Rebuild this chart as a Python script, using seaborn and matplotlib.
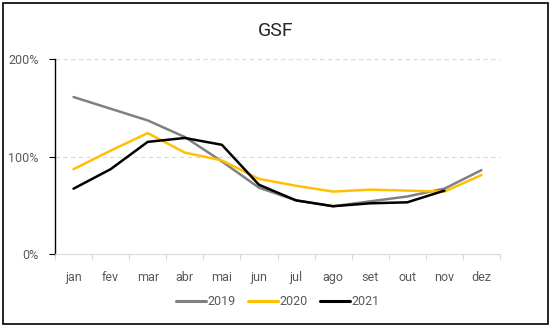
import matplotlib
matplotlib.use("Agg")
import matplotlib.pyplot as plt
from matplotlib.patches import Rectangle
from matplotlib.ticker import FixedLocator, FuncFormatter
import seaborn as sns
import pandas as pd
import numpy as np

months = ["jan", "fev", "mar", "abr", "mai", "jun", "jul", "ago", "set", "out", "nov", "dez"]
gsf_2019 = [161, 149, 137, 120, 95, 68, 55, 49, 54, 59, 67, 86]
gsf_2020 = [87, 106, 124, 104, 96, 77, 70, 64, 66, 65, 64, 81]
gsf_2021 = [67, 87, 115, 119, 112, 71, 55, 49, 52, 53, 65, None]
years = ["2019", "2020", "2021"]
colors = ["#808080", "#FFC000", "#000000"]

rows = []
for year, values in zip(years, [gsf_2019, gsf_2020, gsf_2021]):
    for i, v in enumerate(values):
        if v is not None:
            rows.append({"pos": i, "mes": months[i], "ano": year, "valor": v})
df = pd.DataFrame(rows)

sns.set_theme(style="white")
plt.rcParams["font.family"] = ["Roboto", "DejaVu Sans"]

fig = plt.figure(figsize=(5.51, 3.29), dpi=100)
ax = fig.add_axes([55 / 551, 1 - 254 / 329, 445 / 551, 195 / 329])

sns.lineplot(data=df, x="pos", y="valor", hue="ano", palette=colors,
             linewidth=1.8, ax=ax, legend=True, estimator=None)

ax.set_xlim(-0.5, 11.5)
ax.set_ylim(0, 200)
ax.set_xlabel("")
ax.set_ylabel("")

# horizontal dashed gridlines
for yv in (100, 200):
    ax.axhline(yv, color="#D9D9D9", linestyle=(0, (4, 3)), linewidth=0.8, zorder=0)

for side in ("top", "right"):
    ax.spines[side].set_visible(False)
ax.spines["left"].set_color("black")
ax.spines["left"].set_linewidth(1.0)
ax.spines["bottom"].set_color("#D9D9D9")
ax.spines["bottom"].set_linewidth(0.8)

ax.yaxis.set_major_locator(FixedLocator([0, 100, 200]))
ax.yaxis.set_major_formatter(FuncFormatter(lambda v, p: f"{int(v)}%"))
ax.tick_params(axis="y", which="major", left=True, length=4, width=0.8, color="black",
               labelsize=9, labelcolor="#595959", pad=8)

ax.xaxis.set_major_locator(FixedLocator(range(12)))
ax.set_xticklabels(months)
ax.tick_params(axis="x", which="major", bottom=False, labelsize=9, labelcolor="#595959", pad=6)
ax.xaxis.set_minor_locator(FixedLocator(np.arange(-0.5, 12, 1)))
ax.tick_params(axis="x", which="minor", bottom=True, length=4, width=0.8, color="#D9D9D9")

handles, labels = ax.get_legend_handles_labels()
for h in handles:
    h.set_linewidth(2.2)
ax.legend(handles, labels, loc="center", bbox_to_anchor=(0.5, -0.245), ncol=3, frameon=False,
          fontsize=9, labelcolor="#595959", handlelength=2.4, handletextpad=0.1,
          columnspacing=1.0)

fig.text(0.5, 1 - 31 / 329, "GSF", ha="center", va="center", fontsize=14,
         color="#262626")

fig.patches.append(Rectangle((2.5 / 551, 1 - 323.5 / 329), 545 / 551, 321 / 329,
                             transform=fig.transFigure, fill=False, edgecolor="black",
                             linewidth=1.2))

fig.savefig("out.png", dpi=100)
